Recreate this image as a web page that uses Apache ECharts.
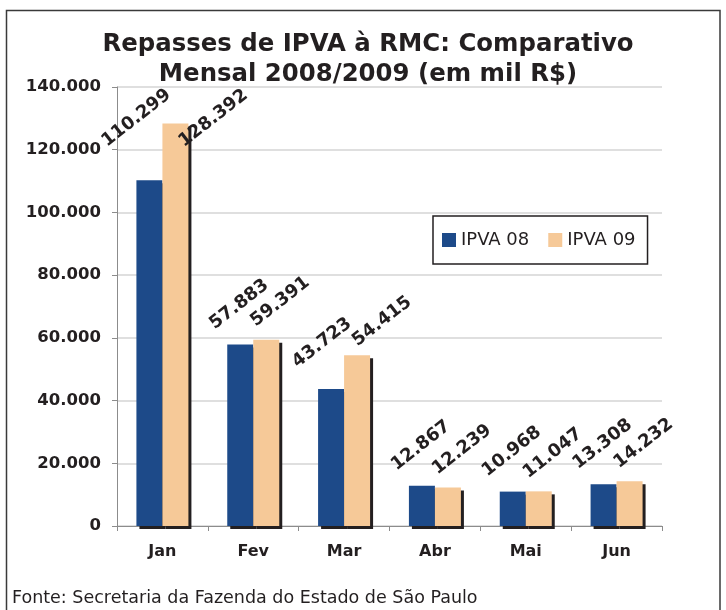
<!DOCTYPE html>
<html>
<head>
<meta charset="utf-8">
<script src="https://cdn.jsdelivr.net/npm/echarts@6/dist/echarts.min.js"></script>
<style>
html,body{margin:0;padding:0;background:#fff;}
#c{width:726px;height:610px;}
</style>
</head>
<body>
<div id="c"></div>
<script>
const categories = ['Jan', 'Fev', 'Mar', 'Abr', 'Mai', 'Jun'];
const ipva08 = [110299, 57883, 43723, 12867, 10968, 13308];
const ipva09 = [128392, 59391, 54415, 12239, 11047, 14232];
const seriesNames = ['IPVA 08', 'IPVA 09'];
const titleLines = ['Repasses de IPVA à RMC: Comparativo', 'Mensal 2008/2009 (em mil R$)'];
const sourceText = 'Fonte: Secretaria da Fazenda do Estado de São Paulo';

const fmt = v => String(v).replace(/\B(?=(\d{3})+(?!\d))/g, '.');
const FONT = '"DejaVu Sans", Verdana, sans-serif';
const DARK = '#231f20';
const ROT = 38;

// convert a screen-space shift into the rotated label's local offset
function toLocal(s) {
  const r = ROT * Math.PI / 180, c = Math.cos(r), n = Math.sin(r);
  return [s[0] * c - s[1] * n, s[0] * n + s[1] * c];
}

function build(values, overrides) {
  return values.map((v, i) => {
    if (overrides[i]) return { value: v, label: { offset: toLocal(overrides[i]) } };
    return v;
  });
}

function makeLabel(shift) {
  return {
    show: true,
    position: 'top',
    distance: 5,
    rotate: ROT,
    align: 'center',
    verticalAlign: 'middle',
    offset: toLocal(shift),
    fontFamily: FONT,
    fontWeight: 'bold',
    fontSize: 18,
    color: DARK,
    formatter: p => fmt(p.value)
  };
}

const chart = echarts.init(document.getElementById('c'), null, { renderer: 'canvas' });
chart.setOption({
  animation: false,
  backgroundColor: '#fff',
  grid: { left: 117, right: 64, top: 87, bottom: 84, containLabel: false },
  legend: {
    data: seriesNames,
    left: 433,
    top: 216,
    orient: 'horizontal',
    icon: 'rect',
    itemWidth: 14,
    itemHeight: 14,
    itemGap: 19,
    padding: [15, 12, 15, 9],
    borderColor: DARK,
    borderWidth: 1.5,
    backgroundColor: '#fff',
    textStyle: { fontFamily: FONT, fontSize: 18, color: DARK }
  },
  xAxis: {
    type: 'category',
    data: categories,
    axisLine: { lineStyle: { color: '#8c8c8c', width: 1 } },
    axisTick: { show: true, length: 5, lineStyle: { color: '#8c8c8c' } },
    axisLabel: { fontFamily: FONT, fontWeight: 'bold', fontSize: 16, color: DARK, margin: 18 }
  },
  yAxis: {
    type: 'value',
    min: 0,
    max: 140000,
    interval: 20000,
    axisLine: { show: true, lineStyle: { color: '#8c8c8c', width: 1 } },
    axisTick: { show: true, length: 5, lineStyle: { color: '#8c8c8c' } },
    splitLine: { lineStyle: { color: '#d4d4d4', width: 1.5 } },
    axisLabel: { fontFamily: FONT, fontWeight: 'bold', fontSize: 16.5, color: DARK, margin: 16, formatter: v => fmt(v) }
  },
  series: [
    {
      name: seriesNames[0],
      type: 'bar',
      barWidth: 26,
      barGap: '0%',
      data: build(ipva08, { 0: [-13, -57], 2: [-9, -41] }),
      itemStyle: { color: '#1d4a89', shadowColor: DARK, shadowOffsetX: 3, shadowOffsetY: 3, shadowBlur: 0 },
      label: makeLabel([-1, -35]),
      z: 2
    },
    {
      name: seriesNames[1],
      type: 'bar',
      barWidth: 26,
      barGap: '0%',
      data: build(ipva09, { 0: [38, 0], 2: [25, -29] }),
      itemStyle: { color: '#f6c998', shadowColor: DARK, shadowOffsetX: 3, shadowOffsetY: 3, shadowBlur: 0 },
      label: makeLabel([14, -33]),
      z: 2
    }
  ],
  graphic: [
    {
      type: 'rect',
      shape: { x: 6.5, y: 10.5, width: 713.5, height: 640 },
      style: { fill: 'none', stroke: '#3a3a3a', lineWidth: 1.5 },
      z: 0,
      silent: true
    },
    {
      type: 'text',
      x: 368,
      y: 30,
      style: {
        text: titleLines.join('\n'),
        font: 'bold 24.4px ' + FONT,
        fill: DARK,
        textAlign: 'center',
        textVerticalAlign: 'top',
        lineHeight: 30
      },
      z: 10
    },
    {
      type: 'text',
      x: 12,
      y: 598,
      style: {
        text: sourceText,
        font: '17.5px ' + FONT,
        fill: DARK,
        textAlign: 'left',
        textVerticalAlign: 'middle'
      },
      z: 10
    }
  ]
});
</script>
</body>
</html>
